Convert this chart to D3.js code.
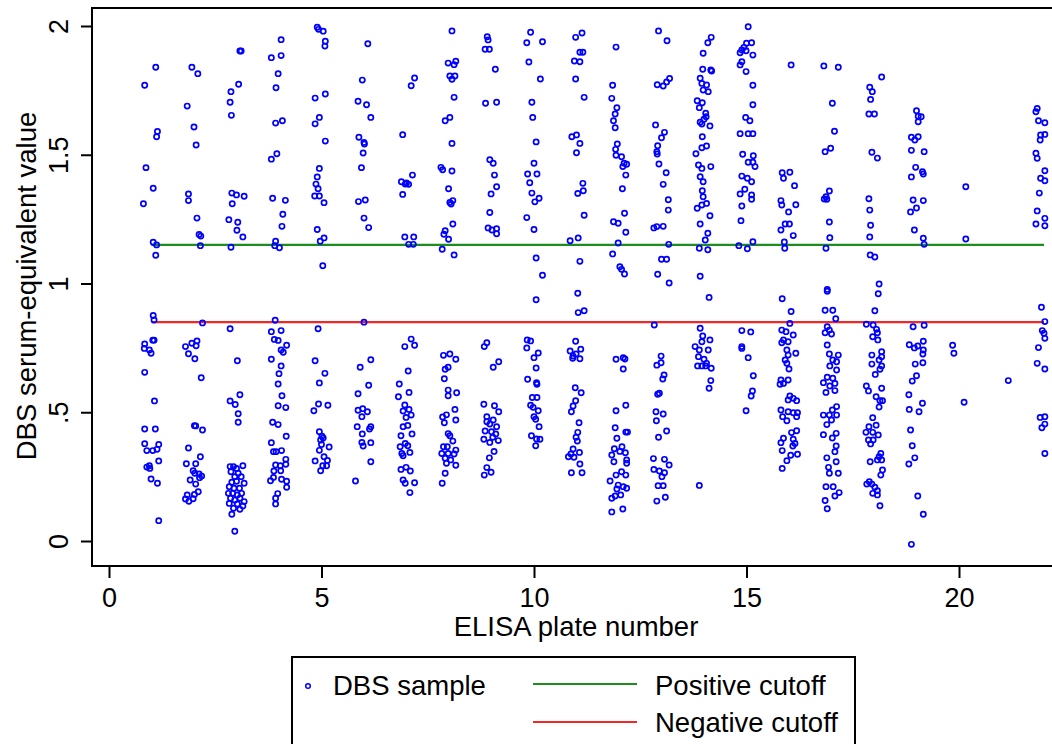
<!DOCTYPE html>
<html>
<head>
<meta charset="utf-8">
<script src="https://cdn.jsdelivr.net/npm/d3@7"></script>
<style>
  body { margin: 0; background: #fff; }
  svg { font-family: "Liberation Sans", Arial, sans-serif; }
</style>
</head>
<body>
<svg id="chart" width="1052" height="744"></svg>
<script>
// readings per ELISA plate: [jittered plate position, serum-equivalent value]
const plate1 = [[1.10,1.84],[0.84,1.77],[1.14,1.59],[1.12,1.57],[0.87,1.45],[1.04,1.37],[0.81,1.31],[1.04,1.16],[1.12,1.15],[1.10,1.11],
  [1.04,.876],[1.06,.858],[.84,.765],[1.06,.78],[1.03,.78],[.83,.748],[.95,.742],[.99,.729],[.84,.655],[1.07,.544],[.84,.435],[1.09,.435],
  [.84,.378],[.89,.351],[1.03,.351],[1.13,.356],[1.17,.375],[.95,.292],[.89,.287],[.96,.282],[1.17,.311],[.99,.241],[1.14,.224],[1.17,.079]];
const plate2 = [[1.95,1.84],[2.09,1.815],[1.84,1.689],[2.00,1.608],[2.05,1.538],[1.87,1.348],[1.87,1.322],[2.07,1.254],[2.12,1.19],[2.16,1.184],[2.15,1.147],
  [2.20,.847],[2.07,.777],[1.95,.768],[1.80,.755],[2.05,.758],[1.87,.727],[2.02,.708],[2.17,.634],[2.01,.448],[2.04,.447],[2.20,.431],[1.87,.361],
  [2.15,.327],[1.82,.30],[2.04,.30],[1.98,.273],[2.02,.263],[2.12,.26],[2.18,.252],[2.13,.246],[1.91,.237],[2.04,.221],[2.10,.191],[2.01,.181],
  [1.84,.179],[1.80,.163],[1.88,.154],[1.98,.164]];
const plate3 = [[3.08,1.903],[3.11,1.903],[3.05,1.774],[2.87,1.745],[2.85,1.704],[2.88,1.653],[2.89,1.351],[3.00,1.344],[3.18,1.339],[2.90,1.31],
  [2.82,1.248],[3.03,1.238],[3.01,1.207],[3.15,1.181],[2.87,1.141],
  [2.85,.824],[3.02,.70],[3.08,.568],[2.85,.544],[2.97,.53],[3.04,.494],[3.04,.461],
  [2.85,.289],[2.93,.289],[3.00,.282],[3.15,.292],[2.87,.269],[3.04,.263],[2.96,.25],[3.11,.25],[2.89,.228],[3.00,.232],[3.18,.224],[2.83,.211],
  [2.94,.205],[3.07,.205],[2.81,.185],[2.91,.185],[3.02,.179],[3.12,.185],[2.86,.166],[2.96,.159],[3.08,.166],[3.18,.153],[2.83,.146],[3.02,.144],
  [3.15,.136],[2.93,.127],[3.08,.123],[2.89,.104],[2.96,.038]];
const plate4 = [[4.05,1.947],[3.82,1.877],[4.05,1.885],[3.98,1.815],[3.93,1.76],[3.92,1.623],[4.08,1.632],[3.95,1.504],[3.82,1.483],[3.85,1.331],
  [4.15,1.323],[4.09,1.269],[4.07,1.222],[3.92,1.164],[3.90,1.147],[4.01,1.139],
  [3.91,.857],[3.82,.813],[4.05,.817],[3.89,.783],[3.98,.779],[4.18,.76],[4.05,.742],[4.10,.733],[3.82,.706],[4.05,.68],[4.00,.65],[3.98,.61],
  [4.07,.564],[3.98,.525],[4.16,.518],[3.85,.461],[3.98,.452],[4.17,.407],[3.82,.382],[3.87,.347],[3.93,.347],[4.06,.351],[4.16,.317],[3.92,.295],
  [4.03,.292],[4.16,.298],[3.88,.272],[4.04,.273],[3.80,.234],[3.87,.247],[4.06,.24],[4.18,.232],[4.18,.209],[3.97,.184],[3.92,.166],[3.92,.144]];
const plate5 = [[4.90,1.995],[4.93,1.987],[5.04,1.98],[5.09,1.941],[5.08,1.922],[4.85,1.72],[5.09,1.736],[4.95,1.645],[4.85,1.62],[5.09,1.553],
  [4.95,1.447],[4.90,1.414],[4.87,1.386],[4.92,1.368],[4.84,1.34],[4.95,1.34],[5.06,1.314],[4.90,1.21],[5.06,1.177],[4.97,1.164],[5.03,1.069],
  [4.92,.824],[4.85,.70],[5.08,.651],[4.95,.614],[4.93,.532],[5.15,.527],[4.82,.506],[4.95,.424],[5.01,.407],[5.04,.40],[4.98,.392],[5.00,.375],
  [5.18,.365],[4.95,.352],[5.06,.327],[4.85,.311],[5.14,.313],[5.12,.292],[4.98,.273],[5.03,.292]];
const plate6 = [[6.09,1.931],[5.96,1.79],[5.86,1.708],[6.06,1.694],[6.16,1.645],[5.88,1.568],[6.01,1.542],[6.00,1.548],[5.98,1.507],[5.94,1.45],
  [5.87,1.318],[6.03,1.324],[6.00,1.254],[6.11,1.217],
  [6.00,.85],[6.16,.704],[5.91,.675],[6.11,.605],[5.86,.572],[5.86,.508],[5.97,.514],[6.08,.502],[5.95,.483],[5.84,.444],[6.16,.444],[6.13,.435],
  [5.96,.416],[5.95,.383],[6.16,.382],[5.98,.369],[6.16,.308],[5.80,.233]];
const plate7 = [[7.19,1.798],[7.11,1.768],[6.91,1.578],[7.14,1.421],[6.88,1.395],[6.97,1.386],[7.05,1.385],[7.00,1.39],[6.91,1.346],[6.96,1.181],
  [7.17,1.181],[7.05,1.152],[7.16,1.152],
  [7.11,.784],[6.96,.755],[7.19,.76],[7.04,.66],[6.83,.61],[7.06,.577],[6.81,.56],[6.96,.528],[7.06,.511],[6.92,.505],[7.11,.489],[6.99,.48],
  [6.92,.444],[7.03,.449],[6.87,.409],[7.13,.416],[6.97,.379],[6.85,.366],[7.03,.37],[6.89,.34],[7.08,.344],[6.92,.331],[6.87,.278],[6.99,.286],
  [7.09,.272],[6.92,.237],[6.97,.224],[7.19,.226],[7.08,.188]];
const plate8 = [[8.07,1.981],[7.98,1.856],[8.16,1.863],[8.12,1.85],[8.02,1.806],[8.14,1.806],[8.07,1.793],[8.12,1.723],[8.02,1.645],[7.91,1.632],
  [8.07,1.544],[7.81,1.451],[7.85,1.442],[8.07,1.437],[7.99,1.368],[8.02,1.315],[8.09,1.322],[8.05,1.309],[8.09,1.231],[7.91,1.205],[7.88,1.191],
  [7.99,1.172],[7.84,1.133],[8.12,1.111],
  [7.87,.721],[8.02,.726],[8.16,.706],[7.98,.675],[7.91,.667],[7.89,.63],[7.98,.586],[8.18,.576],[7.98,.564],[8.14,.511],[7.85,.482],[7.94,.49],
  [7.89,.459],[8.16,.47],[7.98,.417],[8.02,.409],[8.09,.388],[7.87,.366],[7.96,.366],[8.16,.353],[7.83,.34],[7.98,.34],[8.12,.338],[7.91,.321],
  [8.04,.315],[7.94,.302],[8.16,.294],[7.91,.263],[7.84,.224]];
const plate9 = [[8.90,1.958],[8.92,1.946],[8.85,1.91],[8.95,1.91],[9.09,1.832],[8.86,1.70],[9.12,1.704],[8.96,1.481],[9.04,1.467],[9.07,1.421],
  [9.12,1.376],[8.99,1.348],[8.96,1.276],[8.92,1.216],[9.01,1.208],[9.12,1.213],[9.12,1.193],
  [8.89,.77],[8.83,.755],[9.17,.696],[9.04,.675],[8.82,.531],[9.07,.525],[9.17,.502],[8.89,.483],[9.04,.47],[8.89,.463],[8.96,.454],[9.12,.444],
  [8.85,.427],[9.00,.424],[9.10,.416],[9.16,.39],[9.03,.403],[8.82,.395],[8.96,.383],[9.06,.348],[8.95,.323],[8.89,.285],[8.99,.267],[8.83,.256]];
const plate10 = [[9.92,1.976],[9.83,1.935],[10.20,1.939],[9.88,1.86],[10.15,1.794],[9.95,1.704],[9.97,1.645],[10.05,1.55],[10.00,1.467],
  [9.85,1.425],[10.07,1.425],[9.90,1.391],[9.95,1.351],[10.12,1.331],[10.02,1.317],[9.83,1.256],[10.00,1.21],[10.05,1.099],[10.20,1.032],
  [10.05,.937],[9.84,.781],[9.92,.777],[9.83,.75],[10.10,.73],[10.00,.712],[10.05,.672],[9.85,.628],[10.06,.615],[10.07,.609],[9.96,.557],
  [10.07,.557],[9.92,.527],[9.98,.519],[10.10,.506],[10.00,.483],[10.04,.473],[10.12,.444],[9.94,.409],[10.06,.396],[10.14,.395],[10.04,.37]];
const plate11 = [[11.13,1.973],[10.98,1.956],[11.08,1.898],[11.15,1.898],[10.95,1.864],[11.08,1.861],[10.98,1.794],[11.18,1.723],[10.89,1.57],
  [11.00,1.577],[11.08,1.544],[11.00,1.508],[11.15,1.389],[11.16,1.36],[11.03,1.35],[11.18,1.265],[10.85,1.166],[11.04,1.177],[11.08,1.086],
  [11.03,.962],[11.04,.887],[11.18,.894],[10.98,.776],[10.85,.738],[11.10,.745],[10.92,.718],[11.08,.708],[10.99,.726],[10.91,.71],[10.97,.595],
  [11.11,.576],[10.98,.545],[10.92,.524],[10.88,.502],[11.06,.459],[11.03,.422],[10.99,.403],[11.02,.388],[10.92,.357],[10.87,.338],[10.81,.327],
  [10.94,.325],[11.07,.344],[11.08,.299],[10.88,.265],[11.13,.265]];
const plate12 = [[11.93,1.918],[11.85,1.77],[11.83,1.719],[11.95,1.683],[11.91,1.658],[11.87,1.632],[11.91,1.605],[11.96,1.542],[11.92,1.521],
  [11.93,1.498],[12.06,1.492],[12.12,1.467],[12.18,1.463],[12.09,1.454],[12.16,1.421],[12.08,1.368],[12.13,1.273],[11.87,1.24],[11.98,1.234],
  [12.16,1.199],[11.98,1.157],[11.85,1.115],[12.02,1.065],[12.06,1.055],[12.13,1.037],
  [11.93,.706],[12.10,.712],[12.14,.707],[12.10,.668],[12.16,.527],[11.93,.506],[11.91,.44],[11.95,.399],[12.16,.423],[12.20,.423],[11.89,.358],
  [12.07,.366],[11.83,.334],[12.02,.348],[12.15,.343],[11.88,.308],[12.18,.315],[12.18,.302],[12.06,.269],[11.93,.256],[12.16,.256],[11.79,.233],
  [11.98,.217],[12.10,.211],[12.18,.205],[11.95,.202],[11.91,.175],[12.04,.179],[11.83,.166],[11.83,.113],[12.09,.124]];
const plate13 = [[12.93,1.981],[13.13,1.943],[12.90,1.772],[13.04,1.767],[13.12,1.783],[13.19,1.796],[12.86,1.616],[13.07,1.587],[13.00,1.566],
  [12.91,1.535],[12.89,1.512],[12.90,1.503],[12.94,1.464],[13.11,1.43],[13.04,1.385],[13.16,1.325],[13.16,1.285],[12.82,1.216],[12.89,1.221],
  [13.04,1.222],[13.17,1.152],[13.00,1.094],[13.12,1.094],[12.91,1.036],[13.18,1.002],
  [12.83,.839],[12.99,.718],[12.89,.683],[12.99,.692],[13.06,.645],[13.03,.629],[12.91,.57],[12.95,.574],[12.87,.502],[13.04,.493],[12.88,.467],
  [13.12,.427],[12.93,.403],[12.81,.32],[13.07,.317],[13.18,.295],[12.82,.278],[12.95,.272],[13.07,.265],[13.01,.25],[12.92,.215],[13.04,.215],
  [13.09,.17],[12.89,.155]];
const plate14 = [[14.17,1.956],[14.09,1.935],[13.98,1.894],[13.97,1.832],[14.16,1.829],[14.18,1.825],[13.91,1.797],[13.95,1.777],[14.06,1.771],
  [13.98,1.751],[14.10,1.745],[13.84,1.71],[13.96,1.702],[13.89,1.683],[14.04,1.661],[14.05,1.648],[14.00,1.638],[13.91,1.626],[13.95,1.619],
  [14.14,1.612],[13.96,1.57],[14.06,1.534],[13.95,1.527],[13.81,1.504],[13.87,1.46],[13.95,1.447],[14.16,1.454],[13.91,1.415],[13.98,1.395],
  [13.96,1.36],[13.98,1.337],[14.06,1.311],[13.95,1.305],[13.84,1.292],[14.14,1.263],[13.91,1.231],[14.09,1.195],[14.03,1.169],[13.89,1.137],
  [14.09,1.131],[13.91,1.028],
  [14.12,.946],[13.91,.826],[13.97,.796],[14.14,.781],[13.95,.774],[13.79,.755],[13.89,.742],[14.10,.742],[13.87,.716],[14.00,.706],[14.06,.69],
  [13.85,.68],[13.95,.68],[14.04,.68],[14.17,.671],[14.16,.623],[14.12,.593],[13.89,.216]];
const plate15 = [[15.04,1.997],[15.12,1.935],[15.00,1.933],[14.94,1.917],[14.89,1.907],[14.99,1.904],[14.85,1.896],[15.15,1.887],[14.89,1.861],
  [14.85,1.849],[14.99,1.823],[15.15,1.77],[15.15,1.694],[14.98,1.645],[15.08,1.632],[14.85,1.582],[15.04,1.582],[15.15,1.582],[14.91,1.502],
  [15.16,1.496],[15.04,1.471],[15.20,1.454],[15.15,1.471],[14.89,1.417],[15.02,1.409],[15.12,1.395],[14.96,1.366],[14.85,1.348],[15.12,1.344],
  [15.12,1.327],[14.89,1.301],[14.87,1.244],[14.82,1.147],[15.02,1.135],[15.15,1.162],
  [14.89,.817],[15.10,.812],[14.89,.755],[14.89,.748],[15.04,.712],[15.16,.642],[15.14,.583],[15.11,.563],[14.99,.506]];
const plate16 = [[16.05,1.849],[15.84,1.43],[16.02,1.432],[15.87,1.409],[16.13,1.38],[15.81,1.322],[15.83,1.305],[15.99,1.278],[16.16,1.306],
  [15.91,1.231],[16.01,1.231],[15.81,1.208],[16.10,1.186],[15.89,1.161],[15.90,1.137],
  [15.84,.941],[16.05,.891],[16.02,.845],[15.83,.819],[15.93,.813],[16.10,.80],[15.87,.781],[15.98,.774],[15.83,.77],[16.16,.729],[15.95,.742],
  [15.98,.722],[15.91,.703],[15.95,.69],[16.00,.668],[15.81,.625],[15.98,.625],[15.87,.612],[15.79,.609],[16.02,.563],[16.10,.554],[15.98,.548],
  [16.18,.545],[15.81,.509],[15.98,.502],[16.10,.498],[16.20,.498],[15.85,.483],[15.95,.467],[16.18,.483],[16.06,.421],[16.18,.428],[15.87,.399],
  [16.10,.395],[15.81,.382],[16.14,.379],[16.09,.369],[15.84,.351],[16.20,.337],[16.04,.333],[15.95,.312],[15.84,.282]];
const plate17 = [[16.82,1.845],[17.16,1.84],[17.02,1.70],[17.07,1.591],[16.85,1.512],[16.98,1.525],[16.95,1.359],[16.87,1.337],[16.83,1.328],
  [16.89,1.327],[16.95,1.239],[16.96,1.178],[16.87,1.137],[16.90,.977],
  [16.90,.97],[16.85,.896],[17.03,.896],[17.10,.863],[16.90,.832],[16.95,.819],[17.00,.804],[16.85,.809],[16.90,.761],[16.95,.726],[17.16,.722],
  [17.03,.703],[17.12,.696],[16.96,.68],[17.12,.664],[17.03,.632],[16.90,.636],[16.81,.615],[17.08,.612],[16.96,.602],[16.87,.577],[17.08,.584],
  [17.12,.522],[17.02,.509],[16.81,.489],[16.95,.489],[17.12,.489],[16.89,.452],[17.00,.47],[17.11,.418],[16.81,.413],[17.02,.40],[17.11,.369],
  [17.08,.347],[16.89,.323],[17.11,.308],[16.93,.286],[17.16,.263],[16.95,.263],[16.87,.211],[17.04,.211],[17.18,.188],[17.08,.175],[16.85,.157],
  [16.90,.125]];
const plate18 = [[18.18,1.802],[17.90,1.762],[17.96,1.745],[17.92,1.715],[17.88,1.658],[18.01,1.658],[17.95,1.51],[18.08,1.487],[17.88,1.329],
  [17.90,1.285],[17.92,1.226],[17.90,1.181],[17.91,1.111],[18.02,1.103],[18.12,.998],
  [18.10,.96],[18.02,.894],[17.82,.842],[17.98,.839],[18.06,.822],[18.08,.809],[17.97,.793],[18.09,.781],[18.18,.735],[17.95,.722],[18.18,.716],
  [18.12,.703],[17.95,.687],[18.18,.68],[18.14,.667],[18.03,.647],[18.18,.593],[17.82,.602],[17.87,.583],[18.05,.56],[18.14,.545],[18.20,.545],
  [18.12,.52],[17.97,.479],[18.05,.45],[17.88,.444],[17.81,.422],[17.97,.422],[18.10,.412],[17.87,.392],[17.98,.392],[17.92,.377],[18.16,.34],
  [18.12,.327],[18.18,.315],[17.91,.308],[18.08,.315],[18.20,.276],[18.16,.256],[17.89,.23],[17.95,.221],[17.83,.221],[18.02,.209],[18.08,.195],
  [17.97,.185],[18.08,.179],[18.14,.137]];
const plate19 = [[19.00,1.671],[19.04,1.65],[19.11,1.648],[19.04,1.628],[18.88,1.568],[18.96,1.557],[19.04,1.57],[18.88,1.517],[19.18,1.512],
  [18.98,1.451],[19.14,1.434],[19.16,1.425],[18.88,1.414],[18.92,1.324],[19.16,1.322],[19.00,1.293],[18.86,1.278],[18.95,1.208],[19.16,1.176],
  [19.18,1.152],
  [18.92,.832],[19.18,.838],[18.83,.762],[18.95,.75],[19.03,.757],[19.16,.776],[19.16,.742],[19.15,.726],[18.97,.687],[19.15,.692],[19.00,.642],
  [18.90,.621],[18.82,.568],[19.14,.535],[18.83,.511],[19.06,.502],[18.86,.431],[18.90,.37],[18.96,.323],[18.82,.299],[19.03,.175],[19.16,.104],
  [18.88,-.013]];
const plate20 = [[20.16,1.376],[20.16,1.173],[19.85,.76],[19.88,.729],[20.12,.539]];
const plate21 = [[21.16,.623]];
const plate22 = [[21.84,1.68],[21.81,1.667],[21.87,1.632],[22.02,1.624],[21.92,1.577],[22.02,1.579],[21.91,1.557],[21.81,1.506],[21.84,1.486],
  [22.02,1.438],[21.92,1.409],[22.02,1.399],[21.89,1.351],[21.84,1.282],[22.02,1.253],[21.81,1.231],[22.02,1.224],
  [21.94,.908],[22.02,.852],[21.96,.817],[22.00,.807],[22.02,.787],[21.87,.751],[21.84,.69],[22.02,.668],[21.91,.48],[22.02,.483],[21.95,.44],
  [22.02,.454],[22.02,.34]];

const positiveCutoff = 1.15;
const negativeCutoff = 0.85;
const cutoffRange = [1, 22];
const xTicks = [0, 5, 10, 15, 20];
const yTicks = [0, 0.5, 1, 1.5, 2];
const yTickLabels = ['0', '.5', '1', '1.5', '2'];

const samples = [plate1, plate2, plate3, plate4, plate5, plate6, plate7, plate8, plate9, plate10, plate11,
  plate12, plate13, plate14, plate15, plate16, plate17, plate18, plate19, plate20, plate21, plate22].flat();

let svg = d3.select('#chart');

let x = d3.scaleLinear().domain([0, 20]).range([109, 959]);
let y = d3.scaleLinear().domain([0, 2]).range([541, 26]);

// plot frame (right side runs off the picture)
svg.append('rect')
  .attr('x', 92).attr('y', 8)
  .attr('width', 1000).attr('height', 558)
  .attr('fill', 'none').attr('stroke', '#000').attr('stroke-width', 2);

// y axis
let yAxis = svg.append('g')
  .attr('transform', 'translate(92,0)')
  .call(d3.axisLeft(y).tickValues(yTicks).tickSize(11)
    .tickFormat((d, i) => yTickLabels[i]));
yAxis.select('.domain').remove();
yAxis.selectAll('line').attr('stroke-width', 2);
yAxis.selectAll('text')
  .attr('x', 0).attr('y', -24).attr('dy', null)
  .attr('transform', 'rotate(-90)')
  .attr('text-anchor', 'middle')
  .attr('font-size', 27).attr('fill', '#000')
  .attr('font-family', '"Liberation Sans", Arial, sans-serif');

// x axis
let xAxis = svg.append('g')
  .attr('transform', 'translate(0,566)')
  .call(d3.axisBottom(x).tickValues(xTicks).tickSize(12).tickPadding(10));
xAxis.select('.domain').remove();
xAxis.selectAll('line').attr('stroke-width', 2);
xAxis.selectAll('text')
  .attr('font-size', 27).attr('fill', '#000')
  .attr('font-family', '"Liberation Sans", Arial, sans-serif');

// axis titles
svg.append('text')
  .attr('x', 576).attr('y', 636)
  .attr('text-anchor', 'middle')
  .attr('font-size', 27.5)
  .text('ELISA plate number');

svg.append('text')
  .attr('transform', 'translate(36,286) rotate(-90)')
  .attr('text-anchor', 'middle')
  .attr('font-size', 27.5)
  .text('DBS serum-equivalent value');

// cutoff lines
svg.append('line')
  .attr('x1', x(cutoffRange[0])).attr('x2', x(cutoffRange[1]))
  .attr('y1', y(positiveCutoff)).attr('y2', y(positiveCutoff))
  .attr('stroke', '#1e8c1e').attr('stroke-width', 2.2);

svg.append('line')
  .attr('x1', x(cutoffRange[0])).attr('x2', x(cutoffRange[1]))
  .attr('y1', y(negativeCutoff)).attr('y2', y(negativeCutoff))
  .attr('stroke', '#f02828').attr('stroke-width', 2.2);

// samples
svg.append('g')
  .selectAll('circle')
  .data(samples)
  .enter()
  .append('circle')
  .attr('cx', d => x(d[0]))
  .attr('cy', d => y(d[1]))
  .attr('r', 2.6)
  .attr('fill', 'none')
  .attr('stroke', '#0000ff')
  .attr('stroke-width', 1.7);

// legend
let legend = svg.append('g');
legend.append('rect')
  .attr('x', 292).attr('y', 657)
  .attr('width', 563).attr('height', 120)
  .attr('fill', '#fff').attr('stroke', '#000').attr('stroke-width', 2);
legend.append('circle')
  .attr('cx', 308).attr('cy', 686).attr('r', 2.3)
  .attr('fill', 'none').attr('stroke', '#0000ff').attr('stroke-width', 1.5);
legend.append('text').attr('x', 333).attr('y', 695).attr('font-size', 27.5).text('DBS sample');
legend.append('line')
  .attr('x1', 533).attr('x2', 637).attr('y1', 684).attr('y2', 684)
  .attr('stroke', '#1e8c1e').attr('stroke-width', 2.2);
legend.append('text').attr('x', 655).attr('y', 695).attr('font-size', 27.5).text('Positive cutoff');
legend.append('line')
  .attr('x1', 533).attr('x2', 637).attr('y1', 722).attr('y2', 722)
  .attr('stroke', '#f02828').attr('stroke-width', 2.2);
legend.append('text').attr('x', 655).attr('y', 732).attr('font-size', 27.5).text('Negative cutoff');
</script>
</body>
</html>
